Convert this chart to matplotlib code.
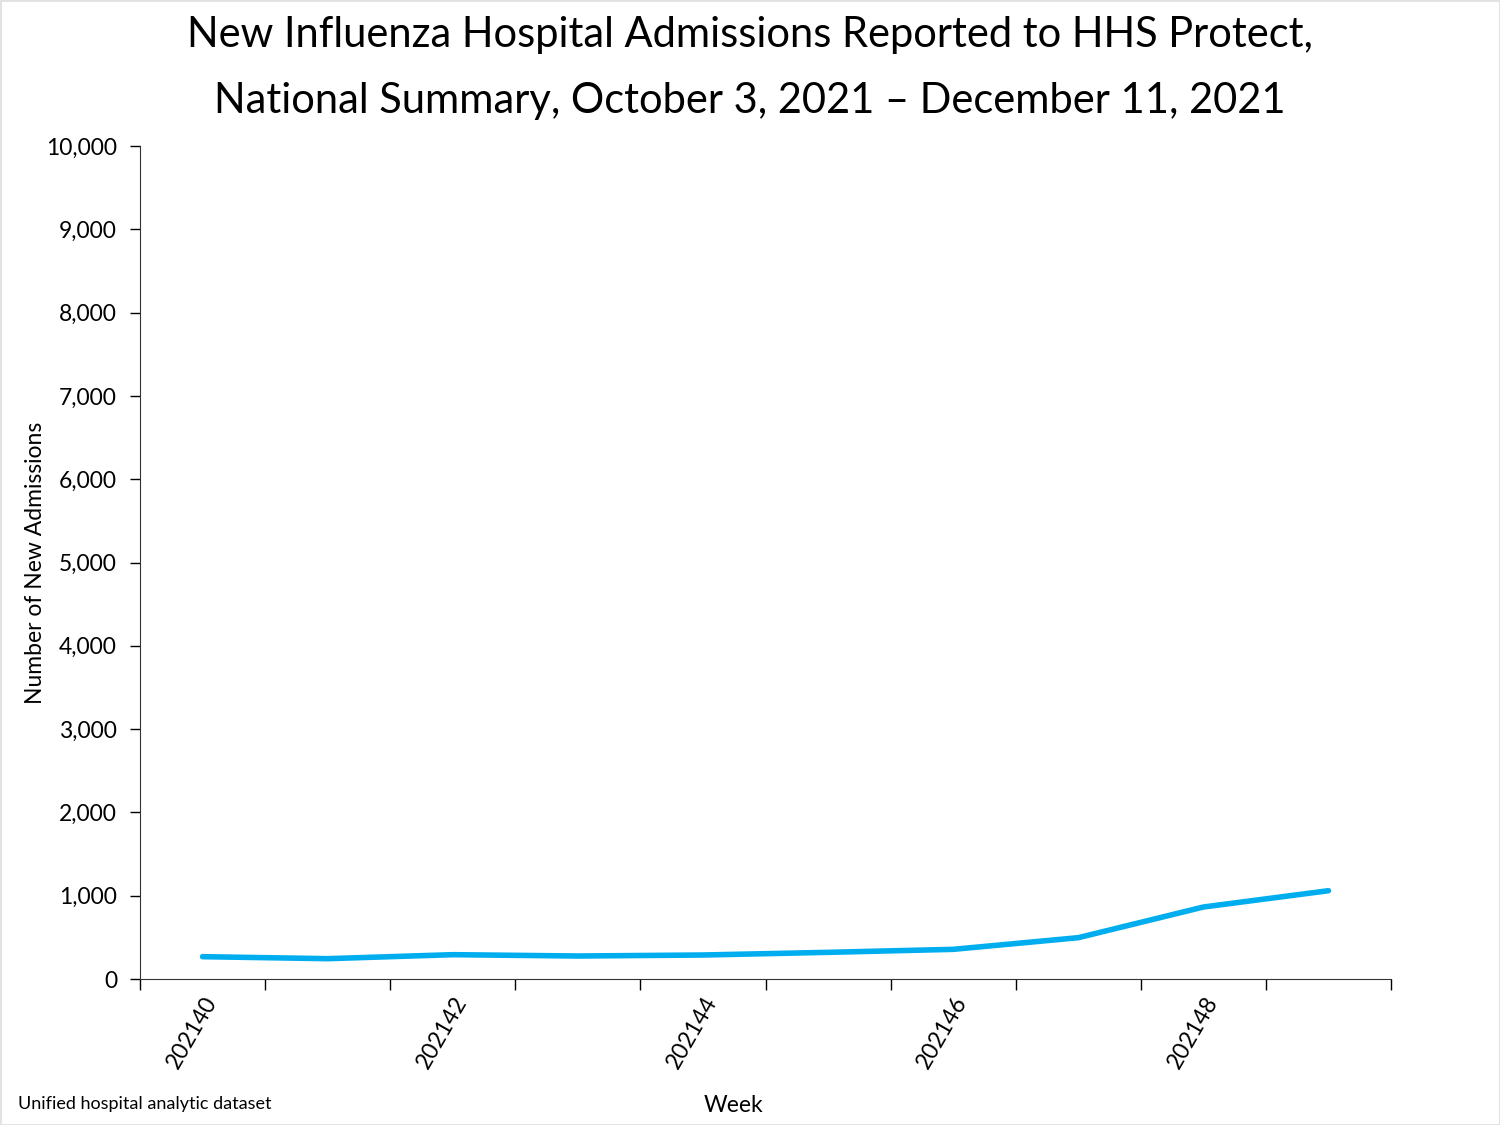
import matplotlib.pyplot as plt
from matplotlib.ticker import FuncFormatter

weeks = ["202140", "202141", "202142", "202143", "202144",
         "202145", "202146", "202147", "202148", "202149"]
admissions = [268, 244, 292, 276, 288, 320, 356, 496, 864, 1060]

plt.rcParams['font.family'] = ['Lato', 'DejaVu Sans']

fig = plt.figure(figsize=(15, 11.25), dpi=100)
fig.patch.set_edgecolor('#e2e2e2')
fig.patch.set_linewidth(1.0)
ax = fig.add_axes([140 / 1500, 1 - 979 / 1125, 1251 / 1500, 833 / 1125])

x = list(range(len(weeks)))
ax.plot(x, admissions, color='#00aeef', linewidth=4, solid_capstyle='round')

ax.set_xlim(-0.5, len(weeks) - 0.5)
ax.set_ylim(0, 10000)
ax.set_yticks(range(0, 10001, 1000))
ax.yaxis.set_major_formatter(FuncFormatter(lambda v, p: f"{int(v):,}"))

# category boundaries carry the tick marks, labels sit on every other week
ax.set_xticks([i - 0.5 for i in range(len(weeks) + 1)])
ax.set_xticklabels([])
ax.set_xticks(x[::2], minor=True)
ax.set_xticklabels(weeks[::2], minor=True, rotation=60, ha='right',
                   rotation_mode='anchor', fontsize=16.5)
ax.tick_params(axis='x', which='major', direction='out', length=8, width=1)
ax.tick_params(axis='x', which='minor', length=0, pad=10)
ax.tick_params(axis='y', direction='out', length=7, width=1, labelsize=16.5, pad=9.5)

for side in ['top', 'right']:
    ax.spines[side].set_visible(False)
for side in ['left', 'bottom']:
    ax.spines[side].set_color('#333333')

ax.set_ylabel('Number of New Admissions', fontsize=16.5)
ax.yaxis.set_label_coords(-0.075, 0.5)

fig.text(0.5, 1 - 35 / 1125, 'New Influenza Hospital Admissions Reported to HHS Protect,',
         ha='center', va='center', fontsize=30)
fig.text(0.5, 1 - 101 / 1125, 'National Summary, October 3, 2021 \u2013 December 11, 2021',
         ha='center', va='center', fontsize=30)
fig.text(733 / 1500, 1 - 1105 / 1125, 'Week', ha='center', va='center', fontsize=16.5)
fig.text(18 / 1500, 1 - 1104 / 1125, 'Unified hospital analytic dataset',
         ha='left', va='center', fontsize=13)

fig.savefig('out.png', dpi=100, edgecolor=fig.get_edgecolor())
